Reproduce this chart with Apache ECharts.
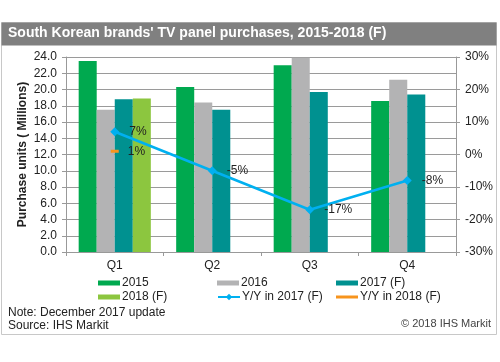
<!DOCTYPE html>
<html>
<head>
<meta charset="utf-8">
<script src="https://cdn.jsdelivr.net/npm/echarts@6/dist/echarts.min.js"></script>
<style>html,body{margin:0;padding:0;background:#fff}#c{width:500px;height:362px}</style>
</head>
<body>
<div id="c"></div>
<script>
const categories = ['Q1', 'Q2', 'Q3', 'Q4'];
const s2015 = [23.5, 20.3, 23.0, 18.6];
const s2016 = [17.5, 18.4, 23.9, 21.2];
const s2017 = [18.8, 17.5, 19.7, 19.4];
const s2018 = [18.9, null, null, null];
const yy2017 = [7, -5, -17, -8];
const yy2018 = [1, null, null, null];
const leftTicks = {min: 0, max: 24, interval: 2};
const rightTicks = {min: -30, max: 30, interval: 10};

const FONT = 'Arial, "Liberation Sans", sans-serif';
const chart = echarts.init(document.getElementById('c'), null, {renderer: 'canvas'});

const C2015 = '#00A94F', C2016 = '#B3B3B4', C2017 = '#009190', C2018 = '#8CC63F', CYY17 = '#00B0F0', CYY18 = '#F7941D';

function legendItem(name, left, top, icon, h) {
  const l = {
    data: [name], left: left, top: top, itemGap: 0,
    itemWidth: 22, itemHeight: h || 8,
    textStyle: {fontFamily: FONT, fontSize: 12, color: '#222', padding: [0, 0, 0, -3]},
    padding: 0, selectedMode: false
  };
  if (icon) l.icon = icon;
  return l;
}

const option = {
  animation: false,
  textStyle: {fontFamily: FONT},
  title: {
    text: "South Korean brands' TV panel purchases, 2015-2018 (F)",
    left: 8, top: 26, padding: 0,
    textStyle: {color: '#fff', fontSize: 14, fontWeight: 'bold', fontFamily: FONT}
  },
  graphic: [
    {type: 'rect', z: -10, shape: {x: 1.5, y: 22.5, width: 495, height: 312}, style: {fill: '#fff', stroke: '#C8C8C8', lineWidth: 1}},
    {type: 'rect', z: -9, shape: {x: 1.5, y: 22.5, width: 495, height: 23}, style: {fill: '#808080'}},
    {type: 'text', left: 8, top: 306, style: {text: 'Note: December 2017 update\nSource: IHS Markit', fill: '#222', font: '12px ' + FONT, lineHeight: 13}},
    {type: 'text', right: 9, top: 318, style: {text: '\u00A9 2018 IHS Markit', fill: '#444', font: '11px ' + FONT}}
  ],
  legend: [
    legendItem('2015', 98, 277, 'rect', 5),
    legendItem('2016', 217, 277, 'rect', 5),
    legendItem('2017 (F)', 336, 277, 'rect', 5),
    legendItem('2018 (F)', 98, 291, 'rect', 5),
    legendItem('Y/Y in 2017 (F)', 217, 291),
    legendItem('Y/Y in 2018 (F)', 336, 291, 'rect', 3)
  ],
  grid: {left: 66, right: 44, top: 57, bottom: 110},
  xAxis: {
    type: 'category', data: categories,
    axisLine: {lineStyle: {color: '#999', width: 1}},
    axisTick: {show: true, length: 4, lineStyle: {color: '#999'}},
    axisLabel: {color: '#222', fontSize: 12, margin: 8, fontFamily: FONT}
  },
  yAxis: [
    {
      type: 'value', min: leftTicks.min, max: leftTicks.max, interval: leftTicks.interval,
      name: 'Purchase units ( Millions)', nameLocation: 'middle', nameGap: 37, nameMoveOverlap: false,
      nameTextStyle: {fontWeight: 'bold', fontSize: 12, color: '#222', fontFamily: FONT},
      axisLine: {show: true, lineStyle: {color: '#999'}},
      axisTick: {show: true, length: 4, lineStyle: {color: '#999'}},
      axisLabel: {color: '#222', fontSize: 12, margin: 9, formatter: v => v.toFixed(1)},
      splitLine: {lineStyle: {color: '#9A9A9A', width: 1}}
    },
    {
      type: 'value', min: rightTicks.min, max: rightTicks.max, interval: rightTicks.interval,
      axisLine: {show: true, lineStyle: {color: '#999'}},
      axisTick: {show: true, length: 4, lineStyle: {color: '#999'}},
      axisLabel: {color: '#222', fontSize: 12, margin: 9, formatter: v => v + '%'},
      splitLine: {show: false}
    }
  ],
  series: [
    {name: '2015', type: 'bar', data: s2015, barGap: '0%', barCategoryGap: '26%', itemStyle: {color: C2015}},
    {name: '2016', type: 'bar', data: s2016, itemStyle: {color: C2016}},
    {name: '2017 (F)', type: 'bar', data: s2017, itemStyle: {color: C2017}},
    {name: '2018 (F)', type: 'bar', data: s2018, itemStyle: {color: C2018}},
    {
      name: 'Y/Y in 2017 (F)', type: 'line', yAxisIndex: 1, data: yy2017, z: 5,
      symbol: 'diamond', symbolSize: 9,
      lineStyle: {color: CYY17, width: 2.5}, itemStyle: {color: CYY17},
      label: {show: true, position: 'right', distance: 10, color: '#222', fontSize: 12, fontFamily: FONT, formatter: p => p.value + '%'}
    },
    {
      name: 'Y/Y in 2018 (F)', type: 'line', yAxisIndex: 1, data: yy2018, z: 5,
      symbol: 'rect', symbolSize: [8, 3],
      lineStyle: {color: CYY18, width: 2.5}, itemStyle: {color: CYY18},
      label: {show: true, position: 'right', distance: 9, color: '#222', fontSize: 12, fontFamily: FONT, formatter: p => p.value + '%'}
    }
  ]
};
chart.setOption(option);
</script>
</body>
</html>
